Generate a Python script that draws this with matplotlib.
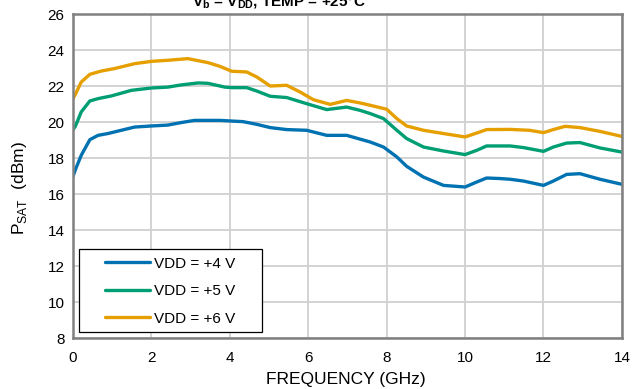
import matplotlib.pyplot as plt
from matplotlib.patches import Rectangle

plt.rcParams['font.family'] = ['Liberation Sans', 'DejaVu Sans']
plt.rcParams['mathtext.fontset'] = 'custom'
plt.rcParams['mathtext.rm'] = 'Liberation Sans'
plt.rcParams['mathtext.bf'] = 'Liberation Sans:bold'

# Saturated output power (dBm) vs frequency (GHz) for three supply voltages
freq_4v = [0, 0.06, 0.21, 0.43, 0.64, 0.89, 1.23, 1.57, 2.0, 2.42, 2.76, 3.1, 3.44,
           3.75, 4.34, 4.69, 5.03, 5.45, 5.96, 6.47, 6.98, 7.58, 7.92, 8.26, 8.51,
           8.94, 9.45, 10.0, 10.3, 10.55, 10.89, 11.15, 11.49, 12.0, 12.25, 12.59,
           12.93, 13.44, 14.0]
psat_4v = [16.98, 17.35, 18.15, 19.02, 19.26, 19.36, 19.54, 19.72, 19.78, 19.83, 19.97,
           20.09, 20.09, 20.09, 20.02, 19.87, 19.69, 19.58, 19.54, 19.26, 19.26, 18.89,
           18.61, 18.06, 17.54, 16.94, 16.48, 16.39, 16.67, 16.89, 16.86, 16.82, 16.72,
           16.48, 16.72, 17.09, 17.13, 16.82, 16.54]

freq_5v = [0, 0.06, 0.21, 0.43, 0.64, 0.98, 1.49, 2.0, 2.42, 2.76, 3.19, 3.44, 3.87,
           4.05, 4.43, 4.69, 5.03, 5.45, 5.96, 6.47, 6.98, 7.32, 7.58, 7.92, 8.26,
           8.51, 8.94, 9.45, 10.0, 10.3, 10.55, 11.15, 11.49, 12.0, 12.25, 12.59,
           12.93, 13.44, 14.0]
psat_5v = [19.58, 19.76, 20.56, 21.17, 21.3, 21.45, 21.76, 21.89, 21.94, 22.06, 22.17,
           22.15, 21.94, 21.91, 21.91, 21.72, 21.43, 21.36, 21.02, 20.69, 20.83, 20.65,
           20.47, 20.19, 19.54, 19.08, 18.61, 18.39, 18.19, 18.43, 18.67, 18.67, 18.58,
           18.37, 18.61, 18.83, 18.86, 18.56, 18.33]

freq_6v = [0, 0.06, 0.21, 0.43, 0.72, 1.06, 1.57, 2.0, 2.42, 2.93, 3.44, 3.75, 4.05,
           4.43, 4.69, 5.03, 5.45, 5.79, 6.13, 6.56, 6.98, 7.32, 7.58, 8.0, 8.26,
           8.51, 8.94, 9.45, 10.0, 10.3, 10.55, 11.15, 11.64, 12.0, 12.25, 12.55,
           12.93, 13.44, 14.0]
psat_6v = [21.3, 21.54, 22.22, 22.65, 22.83, 22.97, 23.24, 23.37, 23.43, 23.52, 23.3,
           23.09, 22.82, 22.78, 22.5, 22.0, 22.04, 21.67, 21.24, 20.98, 21.2, 21.06,
           20.93, 20.71, 20.19, 19.78, 19.54, 19.36, 19.17, 19.39, 19.58, 19.59, 19.54,
           19.41, 19.58, 19.76, 19.69, 19.48, 19.2]

series = [
    (freq_4v, psat_4v, 'VDD = +4 V', '#0072B2'),
    (freq_5v, psat_5v, 'VDD = +5 V', '#009E73'),
    (freq_6v, psat_6v, 'VDD = +6 V', '#E69F00'),
]

fig = plt.figure(figsize=(6.42, 3.89), dpi=100)
ax = fig.add_axes([0.1137, 0.131, 0.855, 0.833])

for f, p, label, color in series:
    ax.plot(f, p, color=color, lw=2.4, label=label,
            solid_joinstyle='round', solid_capstyle='round')

ax.set_xlim(0, 14)
ax.set_ylim(8, 26)
ax.set_xticks(range(0, 15, 2))
ax.set_yticks(range(8, 27, 2))
ax.grid(True, color='#d0d0d0', lw=1.3)
ax.set_axisbelow(True)
ax.tick_params(length=0, labelsize=11, pad=6)
ax.tick_params(axis='x', pad=9)
for side in ax.spines.values():
    side.set_color('#808080')
    side.set_linewidth(1.8)

ax.set_xlabel('FREQUENCY (GHz)', fontsize=12.5)
ax.xaxis.set_label_coords(0.497, -0.105)
ax.set_ylabel(r'P$_{\mathrm{SAT}}$  (dBm)', fontsize=12.5)
ax.yaxis.set_label_coords(-0.08, 0.463)

# legend box drawn separately so it can be wider than the entries need
ax.add_patch(Rectangle((0.011, 0.0185), 0.333, 0.256, transform=ax.transAxes,
                       facecolor='white', edgecolor='black', lw=0.9, zorder=4.5))
leg = ax.legend(loc='center', bbox_to_anchor=(0.177, 0.145), fontsize=11,
                frameon=False, borderpad=0, handlelength=2.95,
                labelspacing=0.88, handletextpad=0.25)
leg.set_zorder(5)

# title sits right at the top edge of the figure
fig.text(0.435, 1 - 6 / 389, r'V$_\mathbf{b}$ = V$_\mathbf{DD}$, TEMP = +25°C',
         fontsize=11, fontweight='bold', ha='center', va='baseline')

fig.savefig('out.png', dpi=100)
